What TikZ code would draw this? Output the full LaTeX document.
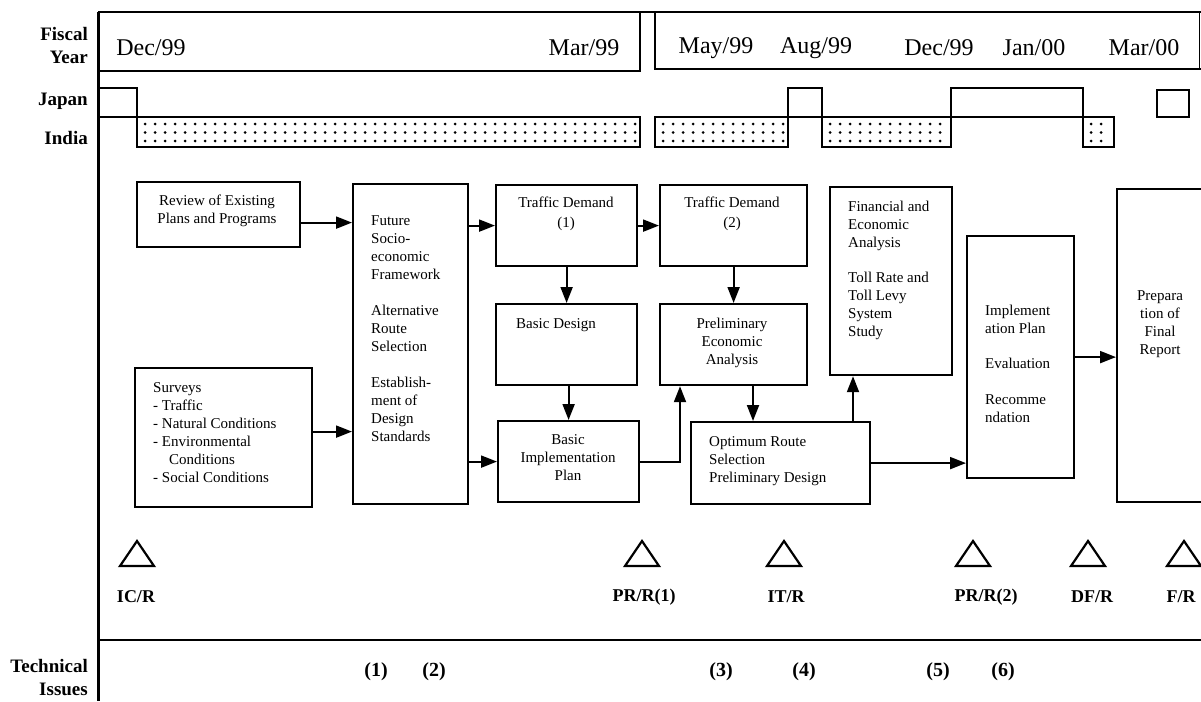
\documentclass[tikz,border=0pt]{standalone}
\usepackage{fontspec}
\setmainfont{Liberation Serif}
\usetikzlibrary{arrows.meta}

\newcommand\stagefont{\fontsize{15}{18}\selectfont}
\newcommand\rowfont{\fontsize{19}{23}\selectfont\bfseries}
\newcommand\datefont{\fontsize{24}{28}\selectfont}
\newcommand\msfont{\fontsize{18}{22}\selectfont\bfseries}
\newcommand\issuefont{\fontsize{20}{24}\selectfont\bfseries}

\begin{document}
\begin{tikzpicture}[x=1pt,y=-1pt,
  rule/.style={line width=2.2pt},
  stage/.style={draw,line width=2.2pt,anchor=north west,inner sep=0pt},
  stagetext/.style={font=\stagefont,align=left,inner sep=0pt},
  flow/.style={line width=2pt,-{Triangle[length=16pt,width=12pt]}},
  rowlabel/.style={font=\rowfont,align=right,anchor=east,inner sep=0pt},
  datelabel/.style={font=\datefont,inner sep=0pt},
  japanbar/.style={draw,line width=2.2pt},
  indiabar/.style={draw,line width=2.2pt},
  milestone/.style={draw,line width=2.2pt},
  mslabel/.style={font=\msfont,inner sep=0pt},
  issue/.style={font=\issuefont,inner sep=0pt}]
\useasboundingbox (0,0) rectangle (1201,701);
\clip (0,0) rectangle (1201,701);

% fiscal year header
\draw[rule] (98,12) -- (1201,12);
\draw[rule] (98,71) -- (640,71) -- (640,12);
\draw[rule] (655,12) -- (655,69) -- (1201,69);
\draw[thin] (1199,12) -- (1199,69);
\draw[line width=3pt] (98,12) -- (98,701);
\draw[rule] (98,640) -- (1201,640);

\node[rowlabel] (fiscal) at (88,46) {Fiscal\\Year};
\node[rowlabel] (japan) at (88,101) {Japan};
\node[rowlabel] (india) at (88,138) {India};
\node[rowlabel] (technical) at (88,678) {Technical\\Issues};

\path (151,48) node[datelabel](dec99){Dec/99}   (584,48) node[datelabel](mar99){Mar/99}
      (716,48) node[datelabel](may99){May/99}   (816,48) node[datelabel](aug99){Aug/99}
      (939,48) node[datelabel](decb99){Dec/99}  (1034,48) node[datelabel](jan00){Jan/00}
      (1144,48) node[datelabel](mar00){Mar/00};

% work in Japan / India
\draw[japanbar] (98,88) rectangle (137,117);
\foreach \a/\b in {788/822,951/1083}
  \draw[japanbar] (\a,88) rectangle (\b,117);
\draw[japanbar] (1157,90) rectangle (1189,117);
\foreach \a/\b in {137/640,655/788,822/951,1083/1114}{
  \draw[indiabar] (\a,117) rectangle (\b,147);
  \pgfmathtruncatemacro\ndots{(\b-\a-12)/10}
  \foreach \i in {0,...,\ndots}
    \foreach \y in {124,132.5,141}
      \fill (\a+8+10*\i,\y) circle (1.5pt);
}

% study stages
\path (136,181) node[stage,minimum width=163pt,minimum height=65pt](review){}
      (352,183) node[stage,minimum width=115pt,minimum height=320pt](socio){}
      (134,367) node[stage,minimum width=177pt,minimum height=139pt](survey){}
      (495,184) node[stage,minimum width=141pt,minimum height=81pt](tda){}
      (659,184) node[stage,minimum width=147pt,minimum height=81pt](tdb){}
      (495,303) node[stage,minimum width=141pt,minimum height=81pt](basic){}
      (659,303) node[stage,minimum width=147pt,minimum height=81pt](pea){}
      (497,420) node[stage,minimum width=141pt,minimum height=81pt](bip){}
      (690,421) node[stage,minimum width=179pt,minimum height=82pt](optimum){}
      (829,186) node[stage,minimum width=122pt,minimum height=188pt](fin){}
      (966,235) node[stage,minimum width=107pt,minimum height=242pt](impl){}
      (1116,188) node[stage,minimum width=110pt,minimum height=313pt](final){};

\path (217,211) node[stagetext,align=center](reviewtxt){Review of Existing\\Plans and Programs}
      (371,329) node[stagetext,anchor=west](sociotxt){Future\\Socio-\\economic\\Framework\\[18pt]Alternative\\Route\\Selection\\[18pt]Establish-\\ment of\\Design\\Standards}
      (153,433) node[stagetext,anchor=west](surveytxt){Surveys\\- Traffic\\- Natural Conditions\\- Environmental\\\hspace*{16pt}Conditions\\- Social Conditions}
      (566,214) node[stagetext,align=center](tdatxt){Traffic Demand\\[2pt](1)}
      (732,214) node[stagetext,align=center](tdbtxt){Traffic Demand\\[2pt](2)}
      (556,325) node[stagetext](basictxt){Basic Design}
      (732,343) node[stagetext,align=center](peatxt){Preliminary\\Economic\\Analysis}
      (568,458) node[stagetext,align=center](biptxt){Basic\\Implementation\\Plan}
      (709,461) node[stagetext,anchor=west](optimumtxt){Optimum Route\\Selection\\Preliminary Design}
      (848,270) node[stagetext,anchor=west](fintxt){Financial and\\Economic\\Analysis\\[17pt]Toll Rate and\\Toll Levy\\System\\Study}
      (985,364) node[stagetext,anchor=west](impltxt){Implement\\ation Plan\\[17pt]Evaluation\\[18pt]Recomme\\ndation}
      (1160,324) node[stagetext,align=center](finaltxt){Prepara\\tion of\\Final\\Report};

% flow between stages
\coordinate (bipup) at ([xshift=21pt]pea.south west);
\coordinate (peadown) at ([xshift=94pt]pea.south west);
\coordinate (finup) at ([xshift=24pt]fin.south west);
\draw[flow] ([yshift=-8pt]review.east) -- ([yshift=-8pt]review.east -| socio.west);
\draw[flow] ([yshift=6pt]survey.east) -- ([yshift=6pt]survey.east -| socio.west);
\draw[flow] (socio.east |- tda.west) -- (tda.west);
\draw[flow] (tda.east) -- (tdb.west);
\draw[flow] (tda.south) -- (tda.south |- basic.north);
\draw[flow] (tdb.south) -- (tdb.south |- pea.north);
\draw[flow] (bip.north |- basic.south) -- (bip.north);
\draw[flow] (socio.east |- bip.west) -- (bip.west);
\draw[flow] (bip.east) -| (bipup);
\draw[flow] (peadown) -- (peadown |- optimum.north);
\draw[flow] (finup |- optimum.north) -- (finup);
\draw[flow] (optimum.east) -- (optimum.east -| impl.west);
\draw[flow] (impl.east) -- (impl.east -| final.west);

% reports
\foreach \x in {137,642,784,973,1088,1184}
  \draw[milestone] (\x-17,566) -- (\x,541) -- (\x+17,566) -- cycle;
\path (136,597) node[mslabel](icr){IC/R}       (644,597) node[mslabel](prra){PR/R(1)}
      (786,597) node[mslabel](itr){IT/R}       (986,597) node[mslabel](prrb){PR/R(2)}
      (1092,597) node[mslabel](dfr){DF/R}      (1181,597) node[mslabel](fr){F/R};

% technical issues
\path (376,672) node[issue](issa){(1)}  (434,672) node[issue](issb){(2)}
      (721,672) node[issue](issc){(3)}  (804,672) node[issue](issd){(4)}
      (938,672) node[issue](isse){(5)}  (1003,672) node[issue](issf){(6)};
\end{tikzpicture}
\end{document}
